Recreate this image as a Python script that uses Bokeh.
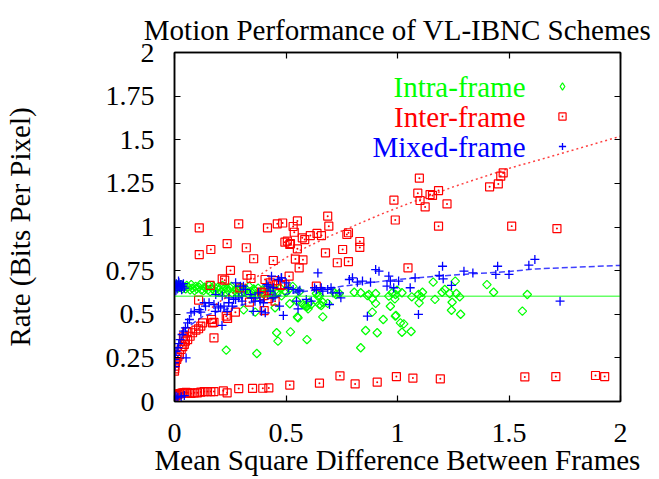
import numpy as np
from bokeh.plotting import figure
from bokeh.models import (Range1d, LinearAxis, FixedTicker, Legend,
                          LegendItem, CustomJSTickFormatter, Label)
from bokeh.embed import file_html
from bokeh.resources import INLINE

# ---------------- data ----------------
title_text = "Motion Performance of VL-IBNC Schemes"
x_label = "Mean Square Difference Between Frames"
y_label = "Rate (Bits Per Pixel)"
series_names = ["Intra-frame", "Inter-frame", "Mixed-frame"]

x_ticks = [0, 0.5, 1, 1.5, 2]
x_tick_labels = ["0", "0.5", "1", "1.5", "2"]
y_ticks = [0, 0.25, 0.5, 0.75, 1, 1.25, 1.5, 1.75, 2]
y_tick_labels = ["0", "0.25", "0.5", "0.75", "1", "1.25", "1.5", "1.75", "2"]

intra_x = [0.005, 0.01, 0.015, 0.02, 0.025, 0.03, 0.035, 0.04,
           0.05, 0.06, 0.07, 0.08, 0.09, 0.10, 0.11, 0.12, 0.13, 0.14, 0.15,
           0.16, 0.17, 0.18, 0.19, 0.20, 0.21, 0.22, 0.23, 0.24, 0.25, 0.26,
           0.27, 0.28, 0.29, 0.30, 0.31, 0.32, 0.33, 0.34, 0.35, 0.36, 0.37,
           0.38, 0.40, 0.42, 0.44, 0.46, 0.48, 0.50,
           0.055, 0.075, 0.095, 0.115, 0.135, 0.155, 0.175, 0.195, 0.215, 0.235,
           0.255, 0.275, 0.295, 0.315, 0.335, 0.355, 0.375, 0.395, 0.415, 0.435,
           0.455, 0.475, 0.495, 0.515, 0.53, 0.56,
           0.232, 0.369, 0.31, 0.362, 0.458, 0.464, 0.52, 0.594, 0.551, 0.665,
           0.576, 0.594, 0.613, 0.65, 0.665, 0.687, 0.724, 0.739, 0.806, 0.835,
           0.865, 0.902, 0.976, 0.991, 1.02, 0.857, 0.909, 0.835, 0.887, 0.902,
           0.936, 1.02, 0.636, 0.65, 0.606, 0.591, 1.16, 1.259, 1.401, 1.431,
           1.582, 0.961, 0.988, 0.998, 1.064, 1.094, 1.106, 1.112, 1.097, 1.168,
           1.2, 1.212, 1.234, 1.264, 1.279, 1.245, 1.242, 1.283, 0.993, 1.028,
           1.061, 1.56, 0.443, 0.451, 0.517, 0.547, 0.554, 0.584, 0.599, 0.658,
           0.643, 0.717, 0.872, 0.887, 0.968, 0.99, 1.013]
intra_y = [0.66, 0.67, 0.65, 0.665, 0.655, 0.67, 0.645, 0.66,
           0.645, 0.655, 0.64, 0.65, 0.635, 0.645, 0.655, 0.64, 0.635, 0.65, 0.64,
           0.63, 0.645, 0.635, 0.625, 0.64, 0.63, 0.645, 0.625, 0.635, 0.65, 0.62,
           0.635, 0.625, 0.64, 0.62, 0.63, 0.645, 0.615, 0.63, 0.62, 0.635, 0.61,
           0.625, 0.615, 0.63, 0.61, 0.62, 0.605, 0.625,
           0.665, 0.67, 0.66, 0.67, 0.655, 0.665, 0.66, 0.655, 0.665, 0.65,
           0.66, 0.645, 0.655, 0.64, 0.66, 0.645, 0.65, 0.64, 0.655, 0.645,
           0.64, 0.65, 0.635, 0.645, 0.66, 0.63,
           0.294, 0.275, 0.525, 0.512, 0.394, 0.346, 0.399, 0.355, 0.485, 0.485,
           0.556, 0.543, 0.556, 0.556, 0.569, 0.562, 0.613, 0.619, 0.626, 0.623,
           0.607, 0.619, 0.623, 0.613, 0.623, 0.407, 0.394, 0.308, 0.512, 0.562,
           0.47, 0.397, 0.619, 0.607, 0.569, 0.546, 0.684, 0.69, 0.67, 0.626,
           0.613, 0.604, 0.588, 0.638, 0.6, 0.613, 0.6, 0.626, 0.565, 0.585,
           0.626, 0.642, 0.619, 0.619, 0.6, 0.569, 0.523, 0.5, 0.493, 0.445,
           0.401, 0.518, 0.607, 0.537, 0.56, 0.579, 0.48, 0.55, 0.531, 0.55,
           0.604, 0.623, 0.613, 0.589, 0.546, 0.489, 0.451]

inter_x = [0.111, 0.111, 0.163, 0.236, 0.288, 0.322, 0.355, 0.251, 0.325, 0.343,
           0.214, 0.225, 0.16, 0.417, 0.461, 0.485, 0.551, 0.532, 0.537, 0.443,
           0.495, 0.506, 0.52, 0.517, 0.551, 0.542, 0.576, 0.559, 0.573, 0.584,
           0.609, 0.639, 0.659, 0.687, 0.692, 0.677, 0.754, 0.773, 0.78, 0.73,
           0.78, 0.831, 0.831, 0.984, 0.99, 0.451, 0.458, 0.476, 0.495, 0.514,
           0.636,
           1.098, 1.091, 1.101, 1.124, 1.146, 1.157, 1.184, 1.222, 1.184, 1.413,
           1.452, 1.463, 1.474, 1.512, 1.715, 1.047,
           0.108, 0.293, 0.232, 0.238, 0.273, 0.166, 0.17, 0.177, 0.177, 0.126,
           0.118, 0.108, 0.096, 0.406, 0.429, 0.399, 0.421, 0.402, 0.451, 0.336,
           0.39, 0.402,
           0.081, 0.07, 0.059, 0.049, 0.044, 0.037, 0.03, 0.022, 0.015, 0.01,
           0.004, 0.002, 0.001, 0.0, 0.055, 0.04,
           0.003, 0.008, 0.015, 0.022, 0.03, 0.037, 0.044, 0.052, 0.06, 0.074,
           0.089, 0.103, 0.118, 0.133, 0.148, 0.163, 0.177, 0.219, 0.236, 0.288,
           0.35, 0.396, 0.423, 0.517, 0.65, 0.742, 0.81, 0.909, 0.995, 1.069,
           1.192, 1.571, 1.71, 1.888, 1.929]
inter_y = [0.995, 0.842, 0.871, 0.905, 1.018, 0.881, 0.818, 0.751, 0.724, 0.705,
           0.703, 0.695, 0.665, 0.995, 1.018, 1.023, 1.035, 1.003, 0.97, 0.808,
           0.913, 0.919, 0.905, 0.9, 0.875, 0.816, 0.812, 0.766, 0.938, 0.928,
           0.951, 0.963, 0.951, 1.062, 1.005, 0.852, 0.871, 0.957, 0.967, 0.795,
           0.802, 0.917, 0.883, 1.154, 1.04, 0.693, 0.67, 0.666, 0.67, 0.718,
           0.661,
           1.28, 1.194, 1.152, 1.115, 1.186, 1.181, 1.209, 1.132, 1.005, 1.23,
           1.247, 1.291, 1.31, 1.005, 0.991, 0.766,
           0.581, 0.651, 0.489, 0.476, 0.512, 0.47, 0.451, 0.454, 0.365, 0.451,
           0.432, 0.417, 0.409, 0.699, 0.68, 0.607, 0.589, 0.521, 0.575, 0.569,
           0.627, 0.623,
           0.394, 0.374, 0.355, 0.346, 0.327, 0.314, 0.298, 0.269, 0.256, 0.241,
           0.222, 0.203, 0.187, 0.174, 0.40, 0.37,
           0.03, 0.035, 0.04, 0.045, 0.046, 0.05, 0.05, 0.052, 0.05, 0.046,
           0.05, 0.05, 0.054, 0.057, 0.057, 0.057, 0.057, 0.061, 0.05, 0.074,
           0.075, 0.076, 0.078, 0.094, 0.105, 0.147, 0.101, 0.111, 0.143, 0.134,
           0.13, 0.141, 0.143, 0.149, 0.143]

mixed_x = [0.003, 0.008, 0.012, 0.016, 0.02, 0.024, 0.028, 0.032, 0.036, 0.04,
           0.006, 0.018, 0.044,
           0.074, 0.089, 0.111, 0.118, 0.067, 0.059, 0.049, 0.04, 0.034, 0.025,
           0.019, 0.015, 0.007, 0.004, 0.001, 0.0, 0.052, 0.002,
           0.133, 0.155, 0.177, 0.197, 0.207, 0.185, 0.214, 0.244, 0.274, 0.288,
           0.303, 0.222, 0.236, 0.259, 0.274, 0.296, 0.318, 0.34, 0.362, 0.384,
           0.377, 0.414, 0.429, 0.451,
           0.309, 0.42, 0.435, 0.479, 0.501, 0.183, 0.139, 0.353, 0.39, 0.213,
           0.243, 0.265, 0.302, 0.346, 0.361, 0.442, 0.471,
           0.643, 0.48, 0.466, 0.443, 0.399, 0.407, 0.51, 0.532, 0.554, 0.562,
           0.547, 0.554, 0.488, 0.591, 0.613, 0.628, 0.636, 0.658, 0.665, 0.687,
           0.702, 0.71, 0.739, 0.695, 0.746, 0.784, 0.798, 0.82, 0.843, 0.879,
           0.902, 0.917, 0.961, 0.968, 0.983, 1.005, 0.865,
           1.079, 1.057, 1.094, 1.202, 1.187, 1.205, 1.242, 1.298, 1.338, 1.449,
           1.441, 1.5, 1.589, 1.616, 0.953, 1.729,
           0.007, 0.03, 0.044, 0.002, 0.015]
mixed_y = [0.66, 0.675, 0.645, 0.665, 0.68, 0.655, 0.67, 0.64, 0.66, 0.675,
           0.635, 0.69, 0.65,
           0.508, 0.517, 0.527, 0.512, 0.47, 0.451, 0.422, 0.403, 0.384, 0.355,
           0.332, 0.308, 0.288, 0.264, 0.241, 0.222, 0.25, 0.2,
           0.566, 0.566, 0.556, 0.546, 0.537, 0.613, 0.604, 0.594, 0.585, 0.594,
           0.575, 0.546, 0.517, 0.546, 0.68, 0.661, 0.642, 0.613, 0.594, 0.575,
           0.623, 0.67, 0.632, 0.604,
           0.661, 0.661, 0.718, 0.709, 0.68, 0.517, 0.546, 0.517, 0.517, 0.436,
           0.566, 0.585, 0.604, 0.594, 0.575, 0.594, 0.546,
           0.737, 0.709, 0.699, 0.652, 0.566, 0.508, 0.652, 0.642, 0.632, 0.638,
           0.575, 0.531, 0.493, 0.585, 0.575, 0.652, 0.642, 0.652, 0.632, 0.642,
           0.652, 0.623, 0.623, 0.556, 0.594, 0.699, 0.709, 0.684, 0.69, 0.684,
           0.756, 0.747, 0.718, 0.69, 0.652, 0.69, 0.489,
           0.709, 0.652, 0.499, 0.775, 0.722, 0.703, 0.665, 0.747, 0.737, 0.775,
           0.728, 0.728, 0.781, 0.814, 0.661, 0.575,
           0.03, 0.027, 0.034, 0.02, 0.025]

# fitted curves
intra_fit_x = [0.0, 2.0]
intra_fit_y = [0.603, 0.603]
inter_fit_x = [0.15, 0.2, 0.29, 0.34, 0.40, 0.52, 0.7, 0.93, 1.02, 1.25, 1.51, 1.65, 2.0]
inter_fit_y = [0.52, 0.57, 0.645, 0.69, 0.74, 0.84, 0.95, 1.075, 1.12, 1.23, 1.34, 1.39, 1.52]
mixed_fit_x = [0.04, 0.13, 0.29, 0.52, 0.75, 1.0, 1.25, 1.5, 1.62, 2.0]
mixed_fit_y = [0.41, 0.49, 0.55, 0.62, 0.66, 0.70, 0.725, 0.745, 0.76, 0.78]

GREEN = "#00ff00"
RED = "#ff0000"
BLUE = "#0000ff"
FONT = "Liberation Serif"

# ---------------- figure ----------------
p = figure(width=651, height=478, x_range=Range1d(0, 2), y_range=Range1d(0, 2),
           output_backend="svg", toolbar_location=None,
           min_border_left=169, min_border_right=31, min_border_top=52,
           min_border_bottom=77,
           x_axis_label=x_label, y_axis_label=y_label, title=title_text)
p.grid.visible = False
p.outline_line_color = "black"
p.outline_line_width = 1.5
p.background_fill_color = "white"
p.border_fill_color = "white"
p.title.text_font = FONT
p.title.text_font_size = "29px"
p.title.text_font_style = "normal"
p.title.text_color = "black"
p.title.align = "center"
p.title.offset = 2
p.title.standoff = 13


def style_axis(ax, ticks, labels):
    ax.ticker = FixedTicker(ticks=ticks)
    ax.major_label_overrides = {t: l for t, l in zip(ticks, labels)}
    ax.major_tick_in = 6
    ax.major_tick_out = 0
    ax.minor_tick_line_color = None
    ax.axis_line_color = "black"
    ax.axis_line_width = 1.5
    ax.major_tick_line_color = "black"
    ax.major_tick_line_width = 1.2
    ax.major_label_text_font = FONT
    ax.major_label_text_font_size = "28px"
    ax.major_label_text_color = "black"
    ax.axis_label_text_font = FONT
    ax.axis_label_text_font_size = "29px"
    ax.axis_label_text_font_style = "normal"
    ax.axis_label_text_color = "black"


style_axis(p.xaxis[0], x_ticks, x_tick_labels)
style_axis(p.yaxis[0], y_ticks, y_tick_labels)
p.xaxis[0].major_label_standoff = 22
p.xaxis[0].axis_label_standoff = -1
p.yaxis[0].major_label_standoff = 20
p.yaxis[0].axis_label_standoff = 67

# mirrored ticks on top and right
blank = CustomJSTickFormatter(code="return ''")
for side, ticks in (("above", x_ticks), ("right", y_ticks)):
    ax = LinearAxis(ticker=FixedTicker(ticks=ticks), formatter=blank,
                    major_tick_in=6, major_tick_out=0,
                    minor_tick_line_color=None, axis_line_color="black",
                    axis_line_width=1.5, major_tick_line_width=1.2,
                    major_label_text_font_size="1px", major_label_standoff=0)
    p.add_layout(ax, side)

# ---------------- data points ----------------
r_intra = p.scatter(intra_x, intra_y, marker="square", angle=np.pi / 4, size=6,
                    fill_color=None, line_color=GREEN, line_width=1.2)
r_inter = p.scatter(inter_x, inter_y, marker="square_dot", size=8,
                    fill_color=None, line_color=RED, line_width=1.2)
r_mixed = p.scatter(mixed_x, mixed_y, marker="cross", size=9,
                    line_color=BLUE, line_width=1.3)

p.line(intra_fit_x, intra_fit_y, line_color=GREEN, line_width=1.5, line_alpha=0.6)
p.line(inter_fit_x, inter_fit_y, line_color=RED, line_width=1.5, line_alpha=0.75,
       line_dash="2 3")
p.line(mixed_fit_x, mixed_fit_y, line_color=BLUE, line_width=1.5, line_alpha=0.75,
       line_dash="6 3")

# key-only sample for the diamond (legend samples ignore the angle);
# its single point is NaN, so nothing is drawn in the plot area
r_intra_key = p.scatter(x=[np.nan], y=[np.nan], marker="diamond", size=8,
                        fill_color=None, line_color=GREEN, line_width=1.2)

# ---------------- key (text right-aligned, sample to its right) ----------------
legend = Legend(items=[LegendItem(label=" ", renderers=[r]) for r in
                       (r_intra_key, r_inter, r_mixed)],
                location=(379, 240), glyph_width=18, glyph_height=30,
                label_height=30, label_width=1, label_standoff=0, spacing=0,
                padding=0, margin=0, border_line_color=None,
                background_fill_alpha=0, label_text_font_size="1px")
p.add_layout(legend, "center")

key_y = [1.805, 1.633, 1.461]
for name, col, yy in zip(series_names, (GREEN, RED, BLUE), key_y):
    p.add_layout(Label(x=1.574, y=yy, text=name, text_align="right",
                       text_baseline="middle", text_color=col,
                       text_font=FONT, text_font_size="29px"))

open("out.html", "w").write(file_html(p, INLINE))
